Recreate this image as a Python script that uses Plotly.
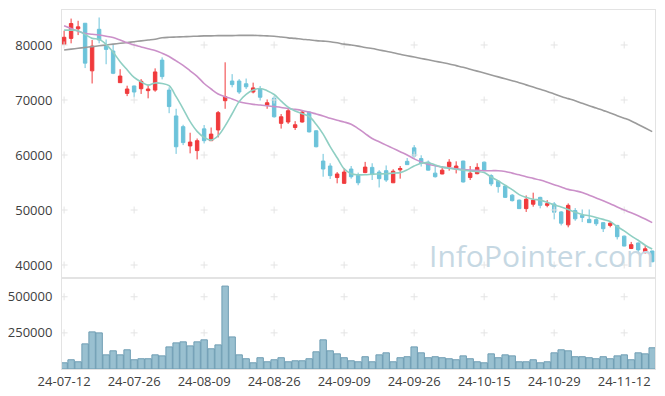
import plotly.graph_objects as go

dates = ["24-07-12","24-07-15","24-07-16","24-07-17","24-07-18","24-07-19","24-07-22","24-07-23","24-07-24","24-07-25",
         "24-07-26","24-07-29","24-07-30","24-07-31","24-08-01","24-08-02","24-08-05","24-08-06","24-08-07","24-08-08",
         "24-08-09","24-08-12","24-08-13","24-08-14","24-08-16","24-08-19","24-08-20","24-08-21","24-08-22","24-08-23",
         "24-08-26","24-08-27","24-08-28","24-08-29","24-08-30","24-09-02","24-09-03","24-09-04","24-09-05","24-09-06",
         "24-09-09","24-09-10","24-09-11","24-09-12","24-09-13","24-09-19","24-09-20","24-09-23","24-09-24","24-09-25",
         "24-09-26","24-09-27","24-09-30","24-10-02","24-10-04","24-10-07","24-10-08","24-10-10","24-10-11","24-10-14",
         "24-10-15","24-10-16","24-10-17","24-10-18","24-10-21","24-10-22","24-10-23","24-10-24","24-10-25","24-10-28",
         "24-10-29","24-10-30","24-10-31","24-11-01","24-11-04","24-11-05","24-11-06","24-11-07","24-11-08","24-11-11",
         "24-11-12","24-11-13","24-11-14","24-11-15","24-11-18"]

open_ = [80100,81200,82950,83950,75300,82850,79800,78900,73150,71200,
         72550,72050,71700,71800,77250,71800,67100,65150,61650,60800,
         64750,62600,64550,69870,73450,73450,72950,71450,72000,69050,
         70350,65750,66000,65000,66000,67800,64400,58900,58000,55900,
         54850,57450,56300,56800,57750,56900,57150,54950,57300,58850,
         61300,59350,58700,56700,56550,57900,57450,58900,55900,56600,
         58700,56250,55250,54350,52700,51800,50250,51050,52300,50850,
         51100,49650,47300,49900,49050,48300,48250,47700,47200,47200,
         45250,43000,44000,42250,42550]
high = [82600,84800,84400,84000,80900,85000,81000,80000,75600,72600,
        72600,73800,72800,75750,77750,72300,68400,65500,64050,63000,
        65450,65000,68000,76850,74700,73800,73900,73150,72550,70100,
        70700,67450,68400,66150,68050,67900,64500,60200,58500,56900,
        57600,58000,56800,58750,58500,57250,58100,57400,58000,59450,
        61800,59950,59000,58100,58000,59250,58850,58950,58000,58500,
        58800,56500,55350,54450,52900,51900,52650,53150,52400,51800,
        51450,49800,51200,50350,50100,50100,48500,47800,48000,47300,
        45350,44200,44100,43450,42600]
low = [80000,80300,81800,75800,73000,80300,76500,74700,73100,70700,
       70500,71100,70300,71500,73750,67600,60200,61800,60300,59200,
       62100,62550,63200,68400,72300,71100,72000,71200,69900,68400,
       66800,64800,65650,64550,65900,64100,61400,56050,55650,54850,
       54800,55700,54500,56700,55450,54100,55100,54900,55700,58200,
       59350,57900,57200,55900,56500,57150,56650,55000,55450,56500,
       57100,54350,53150,52200,51550,50200,49650,50600,50300,50500,
       48300,47200,46850,48050,47800,47650,47100,46000,46850,44650,
       43400,42900,42350,42100,40500]
close = [81400,83900,83300,76700,79800,80900,79200,74850,74350,72000,
         71450,73400,72000,75100,74250,68800,61500,62250,62350,62600,
         62600,63800,67700,70600,72800,71450,72400,72200,70500,69500,
         66950,66950,68050,65500,67800,64200,61500,57450,56250,56550,
         56900,56050,54950,57800,56450,55700,55450,57050,57550,58250,
         59800,58500,57250,56050,57250,58700,58000,55100,56700,57750,
         57150,54750,54250,52300,51700,50250,51950,51800,50850,51150,
         49600,47600,50850,48400,48650,47700,47500,46600,47600,45150,
         43450,43700,42750,42950,40600]

ma5 = [82700,82700,82600,81900,81200,81050,80100,78700,76970,75500,
       74100,73300,72700,73100,73000,72600,70600,68400,66060,64300,
       63200,62700,63500,65300,67500,69700,71000,71800,72100,71700,
       71000,69800,68700,68000,67500,67000,65600,63800,61520,59500,
       57500,56600,56400,56400,56500,56550,56600,56700,56800,57300,
       58000,58500,58600,58200,57800,57600,57400,57250,57100,57000,
       56800,56000,55300,54500,53700,52800,52300,51950,51800,51400,
       50900,50550,50100,49600,49200,48950,48650,48300,47900,47000,
       46200,45300,44500,43600,42900]
ma20 = [83500,83000,82500,82100,81950,81800,81600,81350,80900,80400,
        80000,79650,79300,79000,78500,77900,77100,76300,75300,74300,
        73000,72000,71100,70600,70200,69700,69400,69200,69100,68950,
        68800,68650,68450,68300,68100,67800,67450,67100,66670,66300,
        66000,65600,64800,63900,63000,62400,61800,61200,60600,60000,
        59300,58750,58300,58050,57800,57650,57500,57350,57250,57200,
        57150,57150,57150,57000,56700,56400,56050,55750,55450,55050,
        54600,54200,53750,53500,53200,52700,52200,51700,51150,50550,
        50000,49500,48950,48350,47700]
ma60 = [79100,79250,79400,79550,79700,79850,80000,80150,80300,80450,
        80600,80750,80900,81050,81300,81400,81450,81500,81550,81600,
        81650,81650,81700,81700,81700,81750,81750,81750,81700,81650,
        81600,81450,81300,81200,81050,80950,80800,80700,80600,80400,
        80150,80000,79800,79550,79350,79100,78850,78600,78300,78050,
        77800,77550,77300,77050,76800,76550,76250,75950,75600,75250,
        74900,74550,74200,73850,73500,73150,72750,72350,71950,71550,
        71100,70650,70250,69850,69400,68950,68550,68100,67650,67150,
        66700,66200,65550,64900,64250]

volume = [43000,64000,50000,174000,257000,250000,98000,126000,98000,133000,
          64000,71000,71000,98000,91000,153000,181000,188000,160000,188000,
          202000,140000,167000,574000,222000,98000,71000,43000,78000,50000,
          64000,78000,50000,57000,57000,71000,119000,202000,126000,105000,
          78000,57000,50000,85000,50000,98000,112000,50000,78000,85000,
          153000,112000,78000,85000,78000,71000,64000,91000,71000,50000,
          43000,105000,78000,98000,91000,50000,50000,64000,43000,50000,
          112000,133000,126000,85000,85000,78000,71000,85000,71000,91000,
          98000,64000,112000,105000,147000]

tick_idx = list(range(0, len(dates), 10))
tick_text = [dates[i] for i in tick_idx]
price_ticks = [40000, 50000, 60000, 70000, 80000]
vol_ticks = [250000, 500000]

FONT = "Open Sans"
GRID = "#e4e4e4"

fig = go.Figure()

# grid crosses
cx, cy = [], []
for i in tick_idx:
    for v in price_ticks:
        cx.append(dates[i]); cy.append(v)
fig.add_trace(go.Scatter(x=cx, y=cy, mode="markers", xaxis="x", yaxis="y",
                         marker=dict(symbol="cross-thin", size=5, line=dict(color=GRID, width=1)),
                         hoverinfo="skip", showlegend=False))
vx, vy = [], []
for i in tick_idx:
    for v in vol_ticks:
        vx.append(dates[i]); vy.append(v)
fig.add_trace(go.Scatter(x=vx, y=vy, mode="markers", xaxis="x2", yaxis="y2",
                         marker=dict(symbol="cross-thin", size=5, line=dict(color=GRID, width=1)),
                         hoverinfo="skip", showlegend=False))

# moving averages
for arr, col in [(ma60, "#9b9b9b"), (ma20, "#cb90c9"), (ma5, "#8fcfc3")]:
    fig.add_trace(go.Scatter(x=dates, y=arr, mode="lines", line=dict(color=col, width=1.6, shape="spline"),
                             xaxis="x", yaxis="y", hoverinfo="skip", showlegend=False))

fig.add_trace(go.Candlestick(x=dates, open=open_, high=high, low=low, close=close,
                             xaxis="x", yaxis="y",
                             increasing=dict(line=dict(color="#f03a3c", width=1), fillcolor="#f03a3c"),
                             decreasing=dict(line=dict(color="#6cc3da", width=1), fillcolor="#6cc3da"),
                             whiskerwidth=0, showlegend=False))

fig.add_trace(go.Bar(x=dates, y=volume, xaxis="x2", yaxis="y2",
                     marker=dict(color="#99c0d0", line=dict(color="#6f9db3", width=1)),
                     showlegend=False))

split = 91 / 359
xr = [-0.3, len(dates) - 0.6]
axis_common = dict(type="category", categoryorder="array", categoryarray=dates,
                   range=xr, showgrid=False, zeroline=False, automargin=False,
                   showline=True, linecolor="#e3e3e3", linewidth=1, mirror=True,
                   tickvals=[dates[i] for i in tick_idx], ticktext=tick_text, ticks="", tickangle=0,
                   tickfont=dict(family=FONT, size=13, color="#404040"))
yaxis_common = dict(showgrid=False, zeroline=False, showline=True, linecolor="#e3e3e3", mirror=True,
                    ticks="", ticklabelstandoff=6, tickformat="d", automargin=False,
                    tickfont=dict(family=FONT, size=13, color="#404040"))

# the page body adds an 8px offset; size the figure so the plot area lands where the reference has it
fig.update_layout(
    width=657, height=388,
    margin=dict(l=54, r=10, t=2, b=27),
    paper_bgcolor="white", plot_bgcolor="white",
    showlegend=False,
    bargap=0.08,
    xaxis=dict(axis_common, anchor="y", domain=[0, 1], showticklabels=False, rangeslider=dict(visible=False)),
    yaxis=dict(yaxis_common, domain=[split, 1], range=[37640, 86360], tickvals=price_ticks),
    xaxis2=dict(axis_common, anchor="y2", domain=[0, 1], showticklabels=True),
    yaxis2=dict(yaxis_common, domain=[0, split], range=[0, 630000], tickvals=vol_ticks),
    annotations=[dict(text="InfoPointer.com", xref="paper", yref="paper", x=0.808, y=0.3175,
                      xanchor="center", yanchor="middle", showarrow=False,
                      font=dict(family=FONT, size=30, color="#c6d8e3"))],
)

fig.write_html("out.html")
